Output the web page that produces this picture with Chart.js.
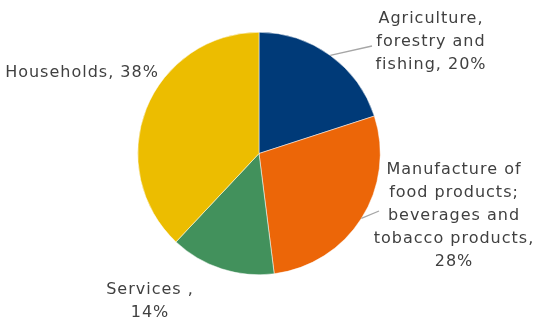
<!DOCTYPE html>
<html>
<head>
<meta charset="utf-8">
<script src="https://cdn.jsdelivr.net/npm/chart.js@4/dist/chart.umd.min.js"></script>
<style>
    html, body { margin: 0; padding: 0; background: #fff; }
    #wrap { position: relative; width: 539px; height: 323px; }
</style>
</head>
<body>
<div id="wrap"><canvas id="pieChart"></canvas></div>
<script>
// Data
const categories = [
    'Agriculture, forestry and fishing',
    'Manufacture of food products; beverages and tobacco products',
    'Services',
    'Households'
];
const shares = [20, 28, 14, 38];
const labelLines = [
    ['Agriculture,', 'forestry and', 'fishing, 20%'],
    ['Manufacture of', 'food products;', 'beverages and', 'tobacco products,', '28%'],
    ['Services ,', '14%'],
    ['Households, 38%']
];
const sliceColors = ['#003a78', '#ec6608', '#42915c', '#ecbd00'];

// Where each label block sits (centre x, first line y) and leader end, if any
const labelSpots = [
    { x: 431, y: 19, leader: [372, 46] },
    { x: 454, y: 170, leader: [379, 211] },
    { x: 150, y: 290, leader: null },
    { x: 82, y: 73, leader: null }
];

const outsideLabels = {
    id: 'outsideLabels',
    afterDraw(chart) {
        const ctx = chart.ctx;
        const arcs = chart.getDatasetMeta(0).data;
        ctx.save();

        // Leader lines from slice edge to label
        ctx.strokeStyle = '#a6a6a6';
        ctx.lineWidth = 1.3;
        arcs.forEach((arc, i) => {
            const spot = labelSpots[i];
            if (!spot.leader) return;
            const p = arc.getProps(['x', 'y', 'startAngle', 'endAngle', 'outerRadius'], true);
            const mid = (p.startAngle + p.endAngle) / 2;
            const sx = p.x + Math.cos(mid) * p.outerRadius;
            const sy = p.y + Math.sin(mid) * p.outerRadius;
            ctx.beginPath();
            ctx.moveTo(sx, sy);
            ctx.lineTo(spot.leader[0], spot.leader[1]);
            ctx.stroke();
        });

        // Label text
        ctx.fillStyle = '#404040';
        ctx.font = '16px "DejaVu Sans", sans-serif';
        ctx.letterSpacing = '1px';
        ctx.textAlign = 'center';
        ctx.textBaseline = 'middle';
        labelLines.forEach((lines, i) => {
            const spot = labelSpots[i];
            lines.forEach((line, j) => {
                ctx.fillText(line, spot.x, spot.y + j * 23);
            });
        });
        ctx.restore();
    }
};

new Chart(document.getElementById('pieChart'), {
    type: 'pie',
    data: {
        labels: categories,
        datasets: [{
            data: shares,
            backgroundColor: sliceColors,
            borderColor: '#ffffff',
            borderWidth: 0.5
        }]
    },
    options: {
        responsive: true,
        maintainAspectRatio: false,
        animation: false,
        layout: { padding: { top: 32, bottom: 48, left: 137, right: 158 } },
        plugins: {
            legend: { display: false },
            tooltip: { enabled: false }
        }
    },
    plugins: [outsideLabels]
});
</script>
</body>
</html>
